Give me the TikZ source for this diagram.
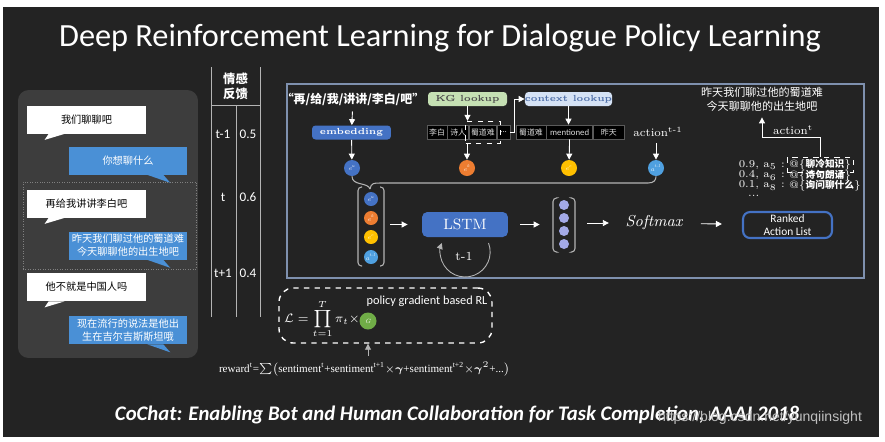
\documentclass[tikz,border=0pt]{standalone}
\usepackage{amsmath}
\usepackage{fontspec}
\newfontfamily\cjk{Noto Sans CJK SC}
\newfontfamily\calib{Carlito}
\newfontfamily\tnr{Liberation Serif}
\newfontfamily\wmfont{Liberation Sans}
\usetikzlibrary{arrows.meta,positioning,calc,fit}
\definecolor{bgdark}{HTML}{232323}
\definecolor{panel}{HTML}{3D3D3D}
\definecolor{chatblue}{HTML}{4A90D6}
\definecolor{frameblue}{HTML}{7E90AE}
\definecolor{lstmblue}{HTML}{4472C4}
\definecolor{kggreen}{HTML}{C5E0B3}
\definecolor{ctxblue}{HTML}{D5E2F5}
\definecolor{ctxtext}{HTML}{4F6FA8}
\definecolor{eorange}{HTML}{ED7D31}
\definecolor{eyellow}{HTML}{FFC000}
\definecolor{elight}{HTML}{4FA0E0}
\definecolor{vpurple}{HTML}{A3A9E6}
\definecolor{ggreen}{HTML}{70AD47}
\definecolor{rule}{HTML}{B4B4B4}
\definecolor{cellline}{HTML}{5A5A5A}

\begin{document}
\begin{tikzpicture}[x=0.02cm,y=-0.02cm,
  arr/.style={-{Triangle[length=1.2mm,width=1.2mm]},white,line width=0.5pt},
  conn/.style={rule,line width=0.6pt},
  bracket/.style={rule,line width=0.6pt,rounded corners=2pt},
  userbubble/.style={fill=white,text=black,minimum width=2.38cm,minimum height=0.56cm,
    inner sep=1pt,align=center,font=\cjk\fontsize{5.8}{7.5}\selectfont},
  botbubble/.style={fill=chatblue,text=white,minimum width=2.36cm,minimum height=0.56cm,
    inner sep=1pt,align=center,font=\cjk\fontsize{5.8}{7.5}\selectfont},
  lookup/.style={rounded corners=2pt,minimum width=1.58cm,minimum height=0.28cm,inner sep=0pt,
    font=\bfseries\fontsize{5}{6}\selectfont},
  cell/.style={draw=cellline,fill=black,text=white!85!black,minimum height=0.28cm,inner sep=0pt,
    font=\cjk\fontsize{4.5}{5}\selectfont},
  dot/.style={circle,inner sep=0pt,minimum size=0.32cm,text=white,font=\itshape\fontsize{3.5}{4}\selectfont},
  vdot/.style={circle,fill=vpurple,inner sep=0pt,minimum size=0.2cm},
  score/.style={text=white,inner sep=1pt,font=\fontsize{6}{7}\selectfont}]

  % slide
  \useasboundingbox (0,0) rectangle (885,441);
  \fill[white] (0,0) rectangle (885,441);
  \fill[bgdark] (3,7) rectangle (879,437);
  \node[text=white,font=\calib\fontsize{18.4}{21}\selectfont] (title) at (440,38)
    {Deep Reinforcement Learning for Dialogue Policy Learning};

  % dialogue
  \node[fill=panel,rounded corners=6pt,minimum width=3.6cm,minimum height=5.36cm] (chat) at (108,224) {};
  \node[draw=gray,densely dotted,minimum width=3.46cm,minimum height=1.74cm] (focus) at (109.5,225.5) {};
  \node[userbubble] (u1) at (86.5,119.5) {我们聊聊吧};
  \node[botbubble] (b1) at (128,160.5) {你想聊什么};
  \node[userbubble] (u2) at (86.5,203.5) {再给我讲讲李白吧};
  \node[botbubble] (b2) at (128,245.5) {昨天我们聊过他的蜀道难\\今天聊聊他的出生地吧};
  \node[userbubble] (u3) at (86.5,287) {他不就是中国人吗};
  \node[botbubble] (b3) at (128,330) {现在流行的说法是他出\\生在吉尔吉斯斯坦哦};
  \foreach \u in {u1,u2,u3}
    \fill[white] ($(\u.south west)+(22,0)$) -- ($(\u.south west)+(18,6)$) -- ($(\u.south west)+(38,0)$) -- cycle;
  \foreach \b in {b1,b2,b3}
    \fill[chatblue] ($(\b.south east)+(-40,0)$) -- ($(\b.south east)+(-17,8)$) -- ($(\b.south east)+(-24,0)$) -- cycle;

  % sentiment feedback
  \draw[rule] (211,67) -- (211,317);
  \draw[rule] (260,67) -- (260,317);
  \draw[rule] (236,105) -- (236,317);
  \draw[rule] (211,105) -- (260,105);
  \node[text=white,align=center,font=\cjk\bfseries\fontsize{7}{8.5}\selectfont] (fbhead) at (235.5,86) {情感\\反馈};
  \foreach \y/\t/\v in {134/t-1/0.5,197/t/0.6,273/t+1/0.4} {
    \node[text=white,font=\calib\fontsize{7.5}{9}\selectfont] (step\y) at (223,\y) {\t};
    \node[text=white,font=\calib\fontsize{7.5}{9}\selectfont] (senti\y) at (248,\y) {\v};
  }

  % policy network
  \node[draw=frameblue,line width=1.5pt,minimum width=11.54cm,minimum height=3.88cm,inner sep=0pt] (net) at (575.5,181) {};
  \node[text=white,font=\cjk\bfseries\fontsize{6.8}{8}\selectfont] (utt) at (353,99) {“再/给/我/讲讲/李白/吧”};
  \node[lookup,fill=lstmblue,text=white] (emb) at (351.5,132.5) {embedding};
  \node[dot,fill=lstmblue] (eu) at (352,168) {e\textsuperscript{u}};
  \draw[arr] (utt) -- (emb);
  \draw[arr] (emb) -- (eu);

  \node[lookup,fill=kggreen,text=black!70] (kg) at (467.5,99) {KG lookup};
  \node[cell,minimum width=0.4cm] (kt1) at (437,132) {李白};
  \node[cell,minimum width=0.42cm,right=0pt of kt1] (kt2) {诗人};
  \node[cell,minimum width=0.54cm,right=0pt of kt2] (kt3) {蜀道难};
  \node[cell,minimum width=0.26cm,right=0pt of kt3] (kt4) {...};
  \node[draw=white,dashed,fit=(kt3),inner sep=2pt] (kdash) {};
  \node[dot,fill=eorange] (ek) at (467,168) {e\textsuperscript{k}};
  \draw[arr] (kg) -- (kg |- kdash.north);
  \draw[arr] (kdash.south -| ek) -- (ek);

  \node[lookup,fill=ctxblue,text=ctxtext] (ctx) at (568.5,99) {context lookup};
  \draw[arr] (kt4.east) -- ++(4,0) |- (ctx.west);
  \node[cell,minimum width=0.6cm] (ct1) at (531,132) {蜀道难};
  \node[cell,minimum width=0.92cm,right=0pt of ct1,font=\calib\fontsize{5}{6}\selectfont] (ct2) {mentioned};
  \node[cell,minimum width=0.62cm,right=0pt of ct2] (ct3) {昨天};
  \node[dot,fill=eyellow] (ec) at (569,168) {e\textsuperscript{c}};
  \draw[arr] (ctx) -- (ctx |- ct2.north);
  \draw[arr] (ct2) -- (ec);

  \node[text=white,font=\fontsize{6.5}{8}\selectfont] (prevact) at (658,132) {action\textsuperscript{t-1}};
  \node[dot,fill=elight] (ea) at (656,168) {a\textsuperscript{t-1}};
  \draw[arr] (prevact.south -| ea) -- (ea);

  % state vector
  \node[dot,fill=lstmblue,minimum size=0.28cm] (x1) at (371,199) {e\textsuperscript{u}};
  \node[dot,fill=eorange,minimum size=0.28cm] (x2) at (371,218) {e\textsuperscript{k}};
  \node[dot,fill=eyellow,minimum size=0.28cm] (x3) at (371,237) {e\textsuperscript{c}};
  \node[dot,fill=elight,minimum size=0.28cm] (x4) at (371,257) {a\textsuperscript{t-1}};
  \draw[bracket] (362,187) -- (358,187) -- (358,266) -- (362,266);
  \draw[bracket] (380,187) -- (384,187) -- (384,266) -- (380,266);
  \node[fit={(358,187) (384,266)},inner sep=0pt] (xin) {};
  \coordinate (brace) at (370,189);
  \draw[conn] (eu.south) .. controls (352,186) and (368,182) .. (brace);
  \draw[conn] (brace) .. controls (371,183) and (374,183) .. (380,183) -- (648,183)
    .. controls (654,183) and (656,180) .. (ea.south);

  \node[fill=lstmblue,rounded corners=3pt,minimum width=1.72cm,minimum height=0.5cm,text=white,
    font=\fontsize{8.5}{10}\selectfont] (lstm) at (465,224.5) {LSTM};
  \draw[arr,shorten <=3.4pt,shorten >=8pt] (xin.east |- lstm) -- (lstm);
  \coordinate (loopst) at (488.5,243);
  \draw[arr,rule] (loopst) arc[start angle=-21,end angle=201,radius=25];
  \node[text=white,font=\fontsize{7}{8}\selectfont] (tprev) at (464,256) {t-1};

  \foreach \i/\y in {1/205,2/218,3/231,4/244}
    \node[vdot] (h\i) at (564,\y) {};
  \draw[bracket] (556,198) -- (553,198) -- (553,252) -- (556,252);
  \draw[bracket] (572,198) -- (575,198) -- (575,252) -- (572,252);
  \node[fit={(553,198) (575,252)},inner sep=0pt] (hout) {};
  \draw[arr,shorten <=6.8pt,shorten >=7.4pt] (lstm) -- (hout.west |- lstm);

  \node[text=white,font=\itshape\fontsize{9}{11}\selectfont] (soft) at (654,223) {Softmax};
  \draw[arr,shorten <=6.8pt,shorten >=6pt] (hout.east |- soft) -- (soft);
  \node[draw=lstmblue,line width=1.2pt,fill=bgdark,rounded corners=4pt,minimum width=1.78cm,
    minimum height=0.52cm,inner sep=1pt,text=white,align=center,
    font=\calib\fontsize{6.5}{7.5}\selectfont] (rank) at (787.5,225) {Ranked\\Action List};
  \draw[arr,shorten <=7pt,shorten >=11.4pt] (soft) -- (rank);

  % ranked actions
  \node[score,anchor=east] (p1) at (787,165) {0.9, a\textsubscript{5} :};
  \node[score,anchor=east] (p2) at (787,175.5) {0.4, a\textsubscript{6} :};
  \node[score,anchor=east] (p3) at (787,185.5) {0.1, a\textsubscript{8} :};
  \node[score,anchor=west] (c1) at (787,165) {@\{{\cjk\bfseries\fontsize{5.5}{6.5}\selectfont 聊冷知识}\}};
  \node[score,anchor=west] (c2) at (787,175.5) {@\{{\cjk\bfseries\fontsize{5.5}{6.5}\selectfont 诗句朗诵}\}};
  \node[score,anchor=west] (c3) at (787,185.5) {@\{{\cjk\bfseries\fontsize{5.5}{6.5}\selectfont 询问聊什么}\}};
  \node[score,anchor=west] (pdots) at (746,196) {...};
  \node[draw=white,dashed,fit=(c1),inner sep=0pt] (cdash) {};
  \node[text=white,align=center,font=\cjk\fontsize{6.3}{8}\selectfont] (reply) at (762,99)
    {昨天我们聊过他的蜀道难\\今天聊聊他的出生地吧};
  \node[text=white,font=\fontsize{6.5}{8}\selectfont] (act) at (793,130) {action\textsuperscript{t}};
  \draw[arr] (cdash.north) -- ++(0,-20) -| (reply.south);

  % policy gradient
  \node[draw=white,dashed,line width=0.8pt,rounded corners=8pt,minimum width=4.26cm,minimum height=1.1cm] (pg) at (385.5,315.5) {};
  \node[text=white,font=\fontsize{7}{8}\selectfont] (loss) at (322,319) {$\displaystyle\mathcal{L}=\prod_{t=1}^{T}\pi_t\times$};
  \node[dot,fill=ggreen,minimum size=0.34cm] (g) at (368,321) {G};
  \node[text=white,font=\calib\fontsize{7}{8}\selectfont] (pgrl) at (427,301) {policy gradient based RL};
  \node[text=white,font=\tnr\fontsize{6.3}{8}\selectfont] (rw) at (364.5,369)
    {reward\textsuperscript{t}=$\sum\bigl($sentiment\textsuperscript{t}+sentiment\textsuperscript{t+1}$\times\boldsymbol{\gamma}$+sentiment\textsuperscript{t+2}$\times\boldsymbol{\gamma}^2$+...$\bigr)$};
  \draw[arr,rule] (g |- rw.north) -- (g |- pg.south);

  % source
  \node[text=white,font=\calib\bfseries\itshape\fontsize{11.8}{14}\selectfont] (cite) at (457,415)
    {CoChat: Enabling Bot and Human Collaboration for Task Completion, AAAI 2018};
  \node[text=white!75!black,font=\wmfont\fontsize{8}{10}\selectfont] (wm) at (760,418) {https://blog.csdn.net/yunqiinsight};
\end{tikzpicture}
\end{document}
